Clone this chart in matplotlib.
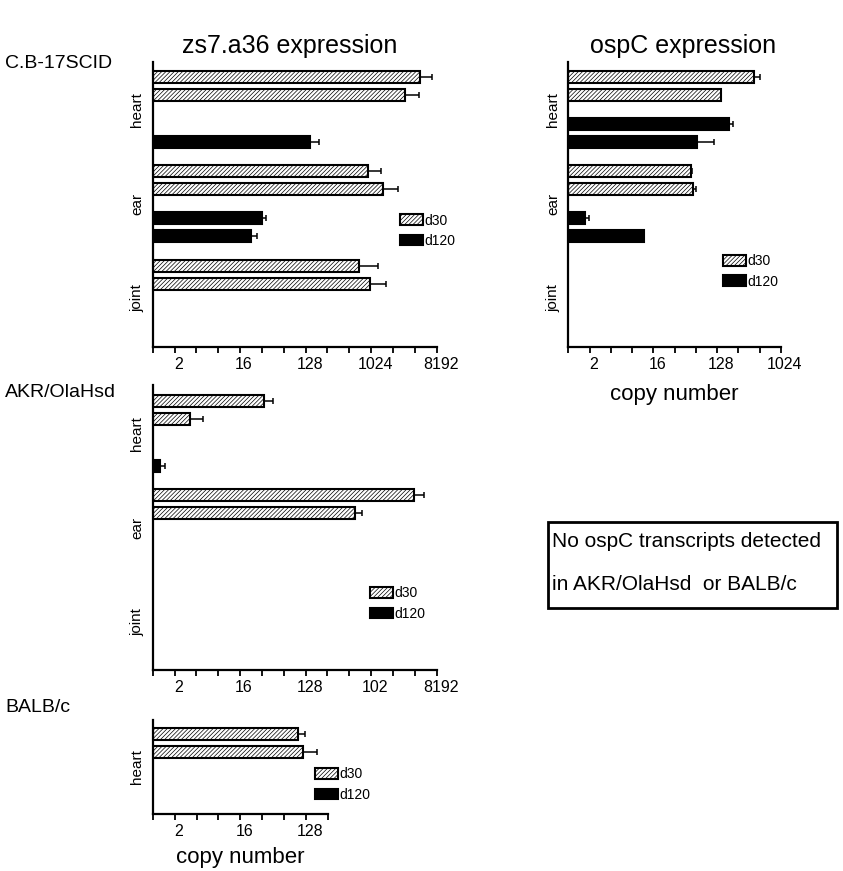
import numpy as np
import matplotlib
matplotlib.use('Agg')
import matplotlib.pyplot as plt
from matplotlib.patches import Rectangle
from matplotlib.transforms import ScaledTranslation

plt.rcParams['font.family'] = ['Liberation Sans', 'DejaVu Sans']
plt.rcParams['hatch.linewidth'] = 0.5

nan = np.nan
organs = ['heart', 'ear', 'joint']
series = ['d30', 'd120']

# values: two mice per organ, in organ order (heart, heart, ear, ear, joint, joint)
scid_zs7_d30 = [4790, 3010, 912, 1483, 693, 973]
scid_zs7_d30_err = [2210, 1680, 479, 903, 572, 691]
scid_zs7_d120 = [nan, 145, 32, 22.8, nan, nan]
scid_zs7_d120_err = [nan, 52, 4.7, 4.2, nan, nan]

scid_ospc_d30 = [420, 143, 55, 57.5, nan, nan]
scid_ospc_d30_err = [102, nan, 2, 7.4, nan, nan]
scid_ospc_d120 = [188, 67, 1.72, 11.65, nan, nan]
scid_ospc_d120_err = [29, 48, 0.22, 0.15, nan, nan]

akr_zs7_d30 = [34.5, 3.26, 4042, 606, nan, nan]
akr_zs7_d30_err = [10.9, 1.7, 1439, 159, nan, nan]
akr_zs7_d120 = [nan, 1.26, nan, nan, nan, nan]
akr_zs7_d120_err = [nan, 0.23, nan, nan, nan, nan]

balb_organs = ['heart']
balb_zs7_d30 = [98, 115]
balb_zs7_d30_err = [25.7, 64]
balb_zs7_d120 = [nan, nan]
balb_zs7_d120_err = [nan, nan]

ticks_8192 = ['', '2', '', '', '16', '', '', '128', '', '', '1024', '', '', '8192']
ticks_8192_akr = ['', '2', '', '', '16', '', '', '128', '', '', '102', '', '', '8192']
ticks_1024 = ['', '2', '', '', '16', '', '', '128', '', '', '1024']
ticks_256 = ['', '2', '', '', '16', '', '', '128', '']

G = 5.24     # organ group spacing
D = 2.62     # offset of d120 pair from d30 pair
H = 0.67     # bar height

fig = plt.figure(figsize=(8.43, 8.71), dpi=100)
W, HH = 843.0, 871.0


def make_ax(x0, x1, y0, y1):
    return fig.add_axes([x0 / W, 1 - y1 / HH, (x1 - x0) / W, (y1 - y0) / HH])


def draw(ax, orgs, d30, d30e, d120, d120e, ticklabels, ylim, legpos):
    n = len(orgs)
    base = np.arange(n) * G
    y30 = np.ravel(np.column_stack([base, base + 1]))
    y120 = y30 + D
    d30 = np.asarray(d30, float)
    d120 = np.asarray(d120, float)
    d30e = np.asarray(d30e, float)
    d120e = np.asarray(d120e, float)
    ax.barh(y30, d30 - 1, left=1, height=H, facecolor='white', edgecolor='black',
            hatch='////////', linewidth=1.5, label=series[0], zorder=2)
    ax.barh(y120, d120 - 1, left=1, height=H, facecolor='black', edgecolor='black',
            linewidth=1.5, label=series[1], zorder=2)
    ax.errorbar(d30, y30, xerr=[np.zeros_like(d30), d30e], fmt='none', ecolor='black',
                elinewidth=1.1, capsize=2.4, capthick=1.1, zorder=1)
    ax.errorbar(d120, y120, xerr=[np.zeros_like(d120), d120e], fmt='none', ecolor='black',
                elinewidth=1.1, capsize=2.4, capthick=1.1, zorder=1)
    ax.set_xscale('log', base=2)
    k = len(ticklabels) - 1
    ax.set_xlim(1, 2 ** k)
    ax.set_xticks([2 ** i for i in range(k + 1)])
    ax.set_xticklabels(ticklabels)
    ax.xaxis.set_minor_locator(matplotlib.ticker.NullLocator())
    ax.set_yticks(base + (1 + D) / 2)
    ax.set_yticklabels(orgs, rotation=90, va='center', fontsize=11)
    ax.set_ylim(ylim[1], ylim[0])
    for s in ['top', 'right']:
        ax.spines[s].set_visible(False)
    for s in ['left', 'bottom']:
        ax.spines[s].set_linewidth(1.6)
    ax.tick_params(axis='x', length=4, width=1.3, direction='out', labelsize=11.5, pad=3)
    ax.tick_params(axis='y', length=0, pad=6)
    off = ScaledTranslation(4 / 100, 0, fig.dpi_scale_trans)
    for lab in ax.get_xticklabels():
        lab.set_transform(lab.get_transform() + off)
    ax.legend(loc='upper left', bbox_to_anchor=legpos, frameon=False, fontsize=10,
              handlelength=1.65, handleheight=0.8, handletextpad=0.1, labelspacing=0.45,
              borderpad=0, borderaxespad=0)


ax1 = make_ax(152.7, 436.7, 62, 347)
draw(ax1, organs, scid_zs7_d30, scid_zs7_d30_err, scid_zs7_d120, scid_zs7_d120_err,
     ticks_8192, (-0.83, 15.0), (0.871, 0.468))

ax2 = make_ax(568.3, 781, 62, 347)
draw(ax2, organs, scid_ospc_d30, scid_ospc_d30_err, scid_ospc_d120, scid_ospc_d120_err,
     ticks_1024, (-0.83, 15.0), (0.727, 0.325))
ax2.set_xlabel('copy number', fontsize=16, labelpad=9)

ax3 = make_ax(152.7, 436.7, 385, 670)
draw(ax3, organs, akr_zs7_d30, akr_zs7_d30_err, akr_zs7_d120, akr_zs7_d120_err,
     ticks_8192_akr, (-0.87, 14.96), (0.765, 0.293))

ax4 = make_ax(152.7, 328, 720, 814)
draw(ax4, balb_organs, balb_zs7_d30, balb_zs7_d30_err, balb_zs7_d120, balb_zs7_d120_err,
     ticks_256, (-0.8, 4.42), (0.926, 0.495))
ax4.set_xlabel('copy number', fontsize=16, labelpad=6)

fig.text(290 / W, 1 - 46 / HH, 'zs7.a36 expression', ha='center', va='center', fontsize=18)
fig.text(683 / W, 1 - 46 / HH, 'ospC expression', ha='center', va='center', fontsize=18)
fig.text(5 / W, 1 - 64 / HH, 'C.B-17SCID', ha='left', va='center', fontsize=14)
fig.text(5 / W, 1 - 392 / HH, 'AKR/OlaHsd', ha='left', va='center', fontsize=14)
fig.text(5 / W, 1 - 707 / HH, 'BALB/c', ha='left', va='center', fontsize=14)

fig.patches.append(Rectangle((548 / W, 1 - 608 / HH), (837 - 548) / W, (608 - 522) / HH,
                             transform=fig.transFigure, fill=False, edgecolor='black',
                             linewidth=2.0))
fig.text(552 / W, 1 - 541 / HH, 'No ospC transcripts detected', ha='left', va='center', fontsize=15)
fig.text(552 / W, 1 - 584 / HH, 'in AKR/OlaHsd  or BALB/c', ha='left', va='center', fontsize=15)

fig.savefig('out.png', dpi=100)
